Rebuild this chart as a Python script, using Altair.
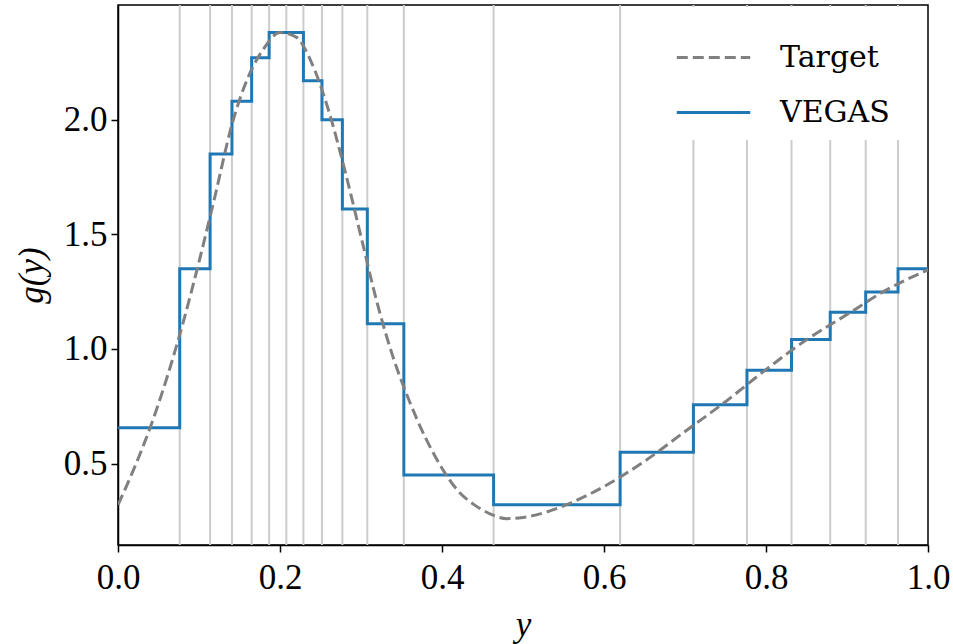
import altair as alt
import pandas as pd

# VEGAS grid (bin edges) and piecewise-constant density values
edges = [0.0, 0.0762, 0.1137, 0.1407, 0.1650, 0.1866, 0.2078, 0.2289, 0.2518,
         0.2770, 0.3078, 0.3529, 0.4637, 0.6199, 0.7104, 0.7765, 0.8315,
         0.8793, 0.9231, 0.9630, 1.0]
vegas = [0.656, 1.35, 1.85, 2.08, 2.27, 2.38, 2.38, 2.17, 2.00, 1.61,
         1.11, 0.45, 0.32, 0.55, 0.757, 0.907, 1.041, 1.16, 1.248, 1.35]

# Target density
target_x = [0.0, 0.02, 0.04, 0.06, 0.08, 0.10, 0.12, 0.14, 0.16, 0.18, 0.20,
            0.22, 0.24, 0.26, 0.28, 0.30, 0.32, 0.34, 0.36, 0.38, 0.40, 0.42,
            0.44, 0.46, 0.48, 0.50, 0.53, 0.56, 0.60, 0.65, 0.70, 0.75, 0.80,
            0.85, 0.90, 0.95, 1.0]
target_y = [0.32, 0.48, 0.66, 0.87, 1.11, 1.38, 1.67, 1.97, 2.18, 2.31, 2.38,
            2.36, 2.24, 2.04, 1.78, 1.49, 1.20, 0.96, 0.77, 0.61, 0.48, 0.38,
            0.32, 0.28, 0.26, 0.265, 0.29, 0.33, 0.40, 0.51, 0.64, 0.77, 0.91,
            1.04, 1.15, 1.26, 1.345]

series_names = ["Target", "VEGAS"]
series_colors = ["#808080", "#1f77b4"]
series_dash = [[11, 5], [1, 0]]

x_ticks = [0.0, 0.2, 0.4, 0.6, 0.8, 1.0]
y_ticks = [0.5, 1.0, 1.5, 2.0]

step_df = pd.DataFrame({
    "x": edges,
    "g": vegas + [vegas[-1]],
    "series": "VEGAS",
})
target_df = pd.DataFrame({"x": target_x, "g": target_y, "series": "Target"})
grid_df = pd.DataFrame({"x": edges[1:-1]})

SERIF = "'Liberation Serif', 'Times New Roman', Times, serif"

x_scale = alt.Scale(domain=[0, 1], nice=False, zero=False)
y_scale = alt.Scale(domain=[0.145, 2.50], nice=False, zero=False)

x_axis = alt.Axis(values=x_ticks, format=".1f", title="y", grid=False,
                  labelFlush=False,
                  titleFontStyle="italic", titleFontWeight="normal")
y_axis = alt.Axis(values=y_ticks, format=".1f", title="g(y)", grid=False,
                  labelFlush=False,
                  titleFontStyle="italic", titleFontWeight="normal")

color_enc = alt.Color(
    "series:N",
    scale=alt.Scale(domain=series_names, range=series_colors),
    legend=alt.Legend(
        title=None, orient="none", legendX=545, legendY=2,
        symbolType="stroke", symbolSize=5400, symbolStrokeWidth=3,
        labelFont="DejaVu Serif", labelFontSize=30, labelColor="black",
        labelOffset=28, fillColor="white", padding=12, rowPadding=1,
    ),
)
dash_enc = alt.StrokeDash(
    "series:N",
    scale=alt.Scale(domain=series_names, range=series_dash),
    legend=None,
)

grid = alt.Chart(grid_df).mark_rule(color="#cccccc", strokeWidth=2).encode(
    x=alt.X("x:Q", scale=x_scale, axis=x_axis),
)

vegas_line = alt.Chart(step_df).mark_line(
    interpolate="step-after", strokeWidth=3, clip=True
).encode(
    x=alt.X("x:Q", scale=x_scale, axis=x_axis),
    y=alt.Y("g:Q", scale=y_scale, axis=y_axis),
    color=color_enc,
    strokeDash=dash_enc,
)

target_line = alt.Chart(target_df).mark_line(
    interpolate="monotone", strokeWidth=3, clip=True
).encode(
    x=alt.X("x:Q", scale=x_scale, axis=x_axis),
    y=alt.Y("g:Q", scale=y_scale, axis=y_axis),
    color=color_enc,
    strokeDash=dash_enc,
)

chart = alt.layer(grid, vegas_line, target_line).properties(
    width=810, height=540,
    autosize=alt.AutoSizeParams(type="none"),
    padding={"left": 118, "top": 5, "right": 25, "bottom": 99},
    background="white",
).configure_view(
    stroke="black", strokeWidth=1.5,
).configure_axis(
    labelFont=SERIF, labelFontSize=35, labelColor="black",
    titleFont=SERIF, titleFontSize=35, titleColor="black",
    domainColor="black", domainWidth=1.5,
    tickColor="black", tickWidth=1.5, tickSize=7,
).configure_axisX(
    labelPadding=8, titlePadding=12,
).configure_axisY(
    labelPadding=4, titlePadding=14,
)

chart.save("out.html", embed_options={"renderer": "svg", "actions": False})
